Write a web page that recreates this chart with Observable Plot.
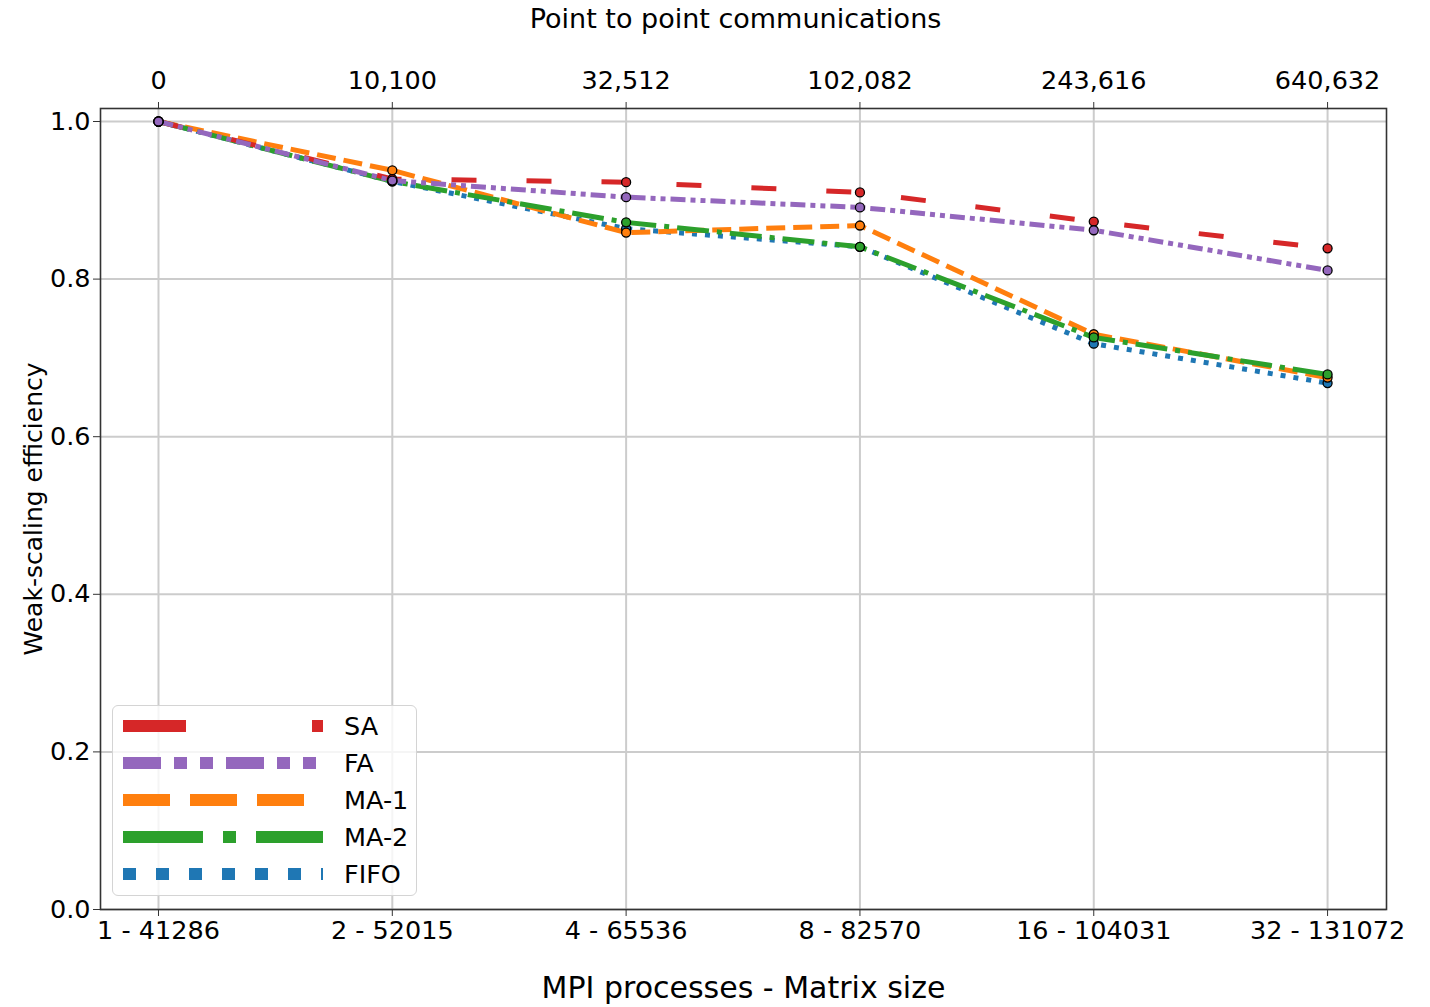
<!DOCTYPE html>
<html>
<head>
<meta charset="utf-8">
<script src="https://cdn.jsdelivr.net/npm/d3@7"></script>
<script src="https://cdn.jsdelivr.net/npm/@observablehq/plot@0.6"></script>
<style>
  html, body { margin: 0; padding: 0; background: #fff; }
  #wrap { position: relative; width: 1430px; height: 1007px; font-family: "DejaVu Sans", sans-serif; }
  #legend { position: absolute; left: 112px; top: 705px; width: 305px; height: 191px;
            border: 1.5px solid #d4d4d4; border-radius: 6px; background: rgba(255,255,255,0.8); box-sizing: border-box; }
  #legend svg { position: absolute; left: 0; top: 0; }
</style>
</head>
<body>
<div id="wrap"></div>
<script>
// ---- data ----
const xLabels = ["1 - 41286", "2 - 52015", "4 - 65536", "8 - 82570", "16 - 104031", "32 - 131072"];
const commLabels = ["0", "10,100", "32,512", "102,082", "243,616", "640,632"];
const seriesNames = ["SA", "FA", "MA-1", "MA-2", "FIFO"];
const SA   = [1.0, 0.927, 0.923, 0.910, 0.873, 0.839];
const FA   = [1.0, 0.925, 0.904, 0.891, 0.862, 0.811];
const MA1  = [1.0, 0.938, 0.859, 0.868, 0.730, 0.675];
const MA2  = [1.0, 0.924, 0.872, 0.841, 0.726, 0.679];
const FIFO = [1.0, 0.924, 0.864, 0.841, 0.718, 0.668];

const colors = {"SA": "#d62728", "FA": "#9467bd", "MA-1": "#ff7f0e", "MA-2": "#2ca02c", "FIFO": "#1f77b4"};
const dashes = {"SA": "25 50", "FA": "15 5 5 5 5 5", "MA-1": "19 8", "MA-2": "32 8 5 8", "FIFO": "5 8"};
const legendDashes = {"SA": "63 126", "FA": "38 13 13 13 13 13", "MA-1": "47 20", "MA-2": "80 20 13 20", "FIFO": "13 20"};
const valuesBy = {"SA": SA, "FA": FA, "MA-1": MA1, "MA-2": MA2, "FIFO": FIFO};

const rows = seriesNames.map(s => valuesBy[s].map((v, i) => ({series: s, i, v})));
const drawOrder = ["FIFO", "MA-1", "MA-2", "SA", "FA"];

const font = "DejaVu Sans, sans-serif";
const idx = xLabels.map((_, i) => i);

const marks = [
  Plot.gridX(idx, {stroke: "#cccccc", strokeOpacity: 1, strokeWidth: 2}),
  Plot.gridY([0, 0.2, 0.4, 0.6, 0.8, 1.0], {stroke: "#cccccc", strokeOpacity: 1, strokeWidth: 2}),
];
for (const s of drawOrder) {
  const d = rows[seriesNames.indexOf(s)];
  marks.push(Plot.line(d, {x: "i", y: "v", stroke: colors[s], strokeWidth: 5, strokeDasharray: dashes[s], strokeLinecap: "butt"}));
}
for (const s of drawOrder) {
  const d = rows[seriesNames.indexOf(s)];
  marks.push(Plot.dot(d, {x: "i", y: "v", r: 4.5, fill: colors[s], stroke: "#000", strokeWidth: 1.3}));
}
marks.push(
  Plot.frame({stroke: "#333", strokeWidth: 1.6}),
  Plot.axisX({anchor: "bottom", ticks: idx, tickFormat: i => xLabels[i], tickSize: 7, tickPadding: 4, fontSize: 25.5, label: null, stroke: "#333"}),
  Plot.axisX({anchor: "top", ticks: idx, tickFormat: i => commLabels[i], tickSize: 7, tickPadding: 13, fontSize: 25.5, label: null, stroke: "#333"}),
  Plot.axisY({anchor: "left", ticks: [0, 0.2, 0.4, 0.6, 0.8, 1.0], tickFormat: d3.format(".1f"), tickSize: 7, tickPadding: 3, fontSize: 25.5, label: null, stroke: "#333"}),
  Plot.text(["MPI processes - Matrix size"], {frameAnchor: "bottom", dy: 79, fontSize: 30, lineAnchor: "middle", textAnchor: "middle", fill: "#000"}),
  Plot.text(["Point to point communications"], {frameAnchor: "top", dx: -8, dy: -89, fontSize: 27, lineAnchor: "middle", textAnchor: "middle", fill: "#000"}),
  Plot.text(["Weak-scaling efficiency"], {frameAnchor: "left", dx: -67, rotate: -90, fontSize: 25, lineAnchor: "middle", textAnchor: "middle", fill: "#000"})
);

const chart = Plot.plot({
  width: 1430,
  height: 1007,
  marginLeft: 100,
  marginRight: 44,
  marginTop: 108,
  marginBottom: 98,
  style: {fontFamily: font, fontSize: "25px", color: "#000", background: "#fff", overflow: "visible"},
  x: {type: "linear", domain: [-0.248, 5.252], axis: null},
  y: {domain: [0, 1.0165], axis: null},
  marks
});

const wrap = document.getElementById("wrap");
wrap.appendChild(chart);

// legend
const leg = document.createElement("div");
leg.id = "legend";
const ns = "http://www.w3.org/2000/svg";
const svg = document.createElementNS(ns, "svg");
svg.setAttribute("width", 305);
svg.setAttribute("height", 191);
seriesNames.forEach((s, k) => {
  const y = 20 + k * 37;
  const ln = document.createElementNS(ns, "line");
  ln.setAttribute("x1", 10); ln.setAttribute("x2", 210);
  ln.setAttribute("y1", y); ln.setAttribute("y2", y);
  ln.setAttribute("stroke", colors[s]);
  ln.setAttribute("stroke-width", 12);
  ln.setAttribute("stroke-dasharray", legendDashes[s]);
  svg.appendChild(ln);
  const t = document.createElementNS(ns, "text");
  t.setAttribute("x", 231); t.setAttribute("y", y);
  t.setAttribute("dominant-baseline", "central");
  t.setAttribute("font-family", font);
  t.setAttribute("font-size", 25.5);
  t.textContent = s;
  svg.appendChild(t);
});
leg.appendChild(svg);
wrap.appendChild(leg);
</script>
</body>
</html>
